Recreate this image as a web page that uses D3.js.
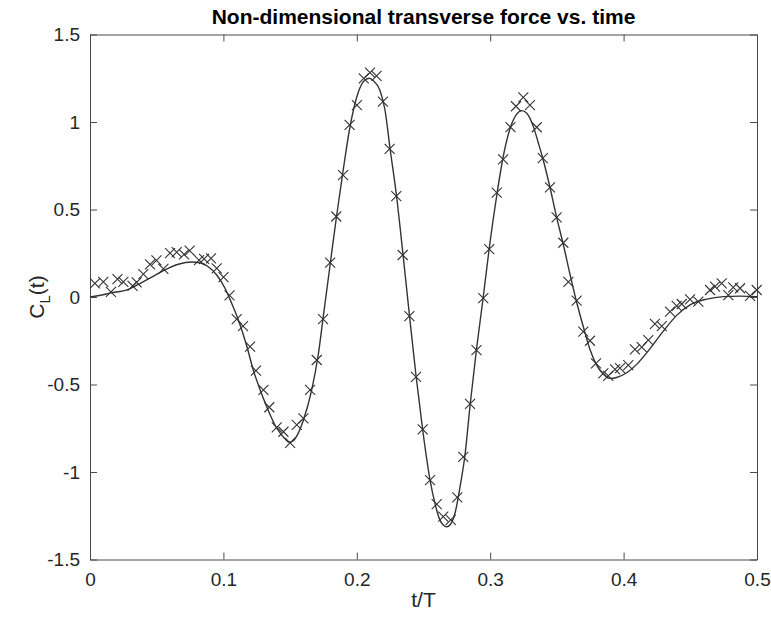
<!DOCTYPE html>
<html>
<head>
<meta charset="utf-8">
<script src="https://cdnjs.cloudflare.com/ajax/libs/d3/7.8.5/d3.min.js"></script>
<style>
  body { margin: 0; background: #fff; }
  svg { display: block; font-family: "Liberation Sans", Arial, sans-serif; }
</style>
</head>
<body>
<div id="chart"></div>
<script>
// solid curve: t/T and C_L(t)
const lineT = [0, 0.008, 0.015, 0.0287, 0.0362, 0.0463, 0.0562, 0.0662, 0.0762, 0.0825, 0.0887, 0.095,
    0.1012, 0.1062, 0.1112, 0.1175, 0.1224, 0.1275, 0.1325, 0.14, 0.145, 0.1495, 0.1537, 0.16, 0.1662,
    0.1711, 0.1749, 0.1794, 0.1846, 0.1897, 0.1946, 0.2011, 0.2061, 0.2094, 0.2124, 0.2174, 0.2211,
    0.2249, 0.2299, 0.2344, 0.2394, 0.2444, 0.2494, 0.2549, 0.2586, 0.2618, 0.2648, 0.2674, 0.2704,
    0.2736, 0.2774, 0.2811, 0.2849, 0.2897, 0.2948, 0.2993, 0.3049, 0.3097, 0.3152, 0.3199, 0.3236,
    0.3274, 0.3323, 0.3361, 0.3394, 0.3448, 0.3498, 0.3548, 0.3598, 0.3648, 0.3698, 0.3748, 0.3798,
    0.3848, 0.3898, 0.3948, 0.4023, 0.4098, 0.4198, 0.4298, 0.4398, 0.4498, 0.4623, 0.4747, 0.4873, 0.5];
const lineCL = [0, 0.01, 0.022, 0.044, 0.072, 0.114, 0.155, 0.187, 0.2, 0.196, 0.173, 0.126,
    0.05, -0.036, -0.131, -0.28, -0.417, -0.53, -0.627, -0.75, -0.8, -0.83, -0.81, -0.703, -0.531,
    -0.33, -0.11, 0.15, 0.45, 0.72, 0.96, 1.17, 1.24, 1.25, 1.236, 1.18, 1.07,
    0.85, 0.57, 0.26, -0.1, -0.45, -0.76, -1.046, -1.179, -1.265, -1.303, -1.313, -1.297,
    -1.236, -1.084, -0.903, -0.62, -0.3, 0.0, 0.28, 0.58, 0.8, 0.97, 1.045, 1.065,
    1.05, 0.975, 0.88, 0.793, 0.627, 0.455, 0.3, 0.13, -0.03, -0.17, -0.3, -0.389,
    -0.44, -0.465, -0.46, -0.433, -0.385, -0.295, -0.195, -0.105, -0.045, -0.012, 0.002, 0.005, 0.002];

// cross markers: t/T and C_L(t)
const markT = [0.0037, 0.01, 0.0157, 0.0206, 0.025, 0.0319, 0.035, 0.04, 0.045, 0.0498, 0.055, 0.06,
    0.065, 0.0705, 0.0747, 0.0817, 0.0855, 0.0907, 0.095, 0.1001, 0.1046, 0.11, 0.1147, 0.12, 0.1244,
    0.13, 0.1344, 0.14, 0.145, 0.15, 0.155, 0.16, 0.165, 0.17, 0.1747, 0.18, 0.1846, 0.1897, 0.1946,
    0.2001, 0.2052, 0.2099, 0.2148, 0.2196, 0.2246, 0.2296, 0.2344, 0.2394, 0.2444, 0.2494, 0.2549,
    0.2599, 0.2648, 0.2704, 0.2753, 0.2798, 0.2849, 0.2897, 0.2948, 0.2993, 0.3049, 0.3097, 0.3152,
    0.3193, 0.3248, 0.3298, 0.3349, 0.3394, 0.3448, 0.3498, 0.3548, 0.3586, 0.3648, 0.3698, 0.3748,
    0.3793, 0.3848, 0.3885, 0.3936, 0.3973, 0.4035, 0.4085, 0.4136, 0.4185, 0.4235, 0.4286, 0.4348,
    0.4398, 0.4436, 0.4498, 0.456, 0.4648, 0.4685, 0.4735, 0.4785, 0.4822, 0.4873, 0.4948, 0.4998];
const markCL = [0.078, 0.087, 0.029, 0.102, 0.087, 0.063, 0.083, 0.131, 0.186, 0.209, 0.161, 0.251,
    0.256, 0.243, 0.265, 0.211, 0.218, 0.221, 0.164, 0.114, 0.009, -0.127, -0.166, -0.283, -0.421,
    -0.531, -0.63, -0.745, -0.77, -0.833, -0.731, -0.693, -0.531, -0.36, -0.127, 0.196, 0.46, 0.697, 0.983,
    1.097, 1.249, 1.282, 1.263, 1.116, 0.847, 0.577, 0.24, -0.109, -0.457, -0.756, -1.046,
    -1.183, -1.255, -1.274, -1.145, -0.913, -0.611, -0.303, -0.007, 0.273, 0.596, 0.786, 0.971,
    1.09, 1.141, 1.097, 0.97, 0.793, 0.627, 0.455, 0.31, 0.087, -0.021, -0.198, -0.25,
    -0.379, -0.436, -0.451, -0.413, -0.407, -0.389, -0.299, -0.287, -0.246, -0.154, -0.166, -0.084,
    -0.051, -0.04, -0.013, -0.027, 0.04, 0.059, 0.078, 0.011, 0.055, 0.05, 0.006, 0.04];

const xTicks = [0, 0.1, 0.2, 0.3, 0.4, 0.5];
const yTicks = [-1.5, -1, -0.5, 0, 0.5, 1, 1.5];

const titleText = "Non-dimensional transverse force vs. time";
const xLabelText = "t/T";

const W = 771, H = 623;
const margin = {left: 90, top: 34.5, right: 14, bottom: 63.5};
const plotW = W - margin.left - margin.right;
const plotH = H - margin.top - margin.bottom;
const axisColor = "#4a4a4a";
const inkColor = "#262626";

const svg = d3.select("#chart").append("svg")
    .attr("width", W)
    .attr("height", H);

const g = svg.append("g")
    .attr("transform", `translate(${margin.left},${margin.top})`);

const x = d3.scaleLinear().domain([0, 0.5]).range([0, plotW]);
const y = d3.scaleLinear().domain([-1.5, 1.5]).range([plotH, 0]);

// box with inward ticks, matlab look; plain hyphen for minus
const tickLen = 7;
const fmt = d => String(d);

const xAxisB = d3.axisBottom(x).tickValues(xTicks).tickSizeInner(-tickLen).tickSizeOuter(0).tickPadding(13).tickFormat(fmt);
const xAxisT = d3.axisTop(x).tickValues(xTicks).tickSizeInner(-tickLen).tickSizeOuter(0).tickFormat("");
const yAxisL = d3.axisLeft(y).tickValues(yTicks).tickSizeInner(-tickLen).tickSizeOuter(0).tickPadding(10).tickFormat(fmt);
const yAxisR = d3.axisRight(y).tickValues(yTicks).tickSizeInner(-tickLen).tickSizeOuter(0).tickFormat("");

const styleAxis = function (sel) {
    sel.select(".domain").attr("stroke", axisColor).attr("stroke-width", 1);
    sel.selectAll(".tick line").attr("stroke", axisColor).attr("stroke-width", 1);
    sel.selectAll(".tick text")
        .attr("fill", inkColor)
        .style("font-size", "19px")
        .style("font-family", "'Liberation Sans', Arial, sans-serif");
};

g.append("g").attr("transform", `translate(0,${plotH})`).call(xAxisB).call(styleAxis);
g.append("g").call(xAxisT).call(styleAxis);
g.append("g").call(yAxisL).call(styleAxis);
g.append("g").attr("transform", `translate(${plotW},0)`).call(yAxisR).call(styleAxis);

const plot = g.append("g");

const lineData = lineT.map((t, i) => [t, lineCL[i]]);
const lineGen = d3.line()
    .x(d => x(d[0]))
    .y(d => y(d[1]))
    .curve(d3.curveMonotoneX);

plot.append("path")
    .attr("d", lineGen(lineData))
    .attr("fill", "none")
    .attr("stroke", "#333")
    .attr("stroke-width", 1.4);

const markData = markT.map((t, i) => [t, markCL[i]]);
const s = 5;
const marks = plot.selectAll("g.mark")
    .data(markData)
    .enter()
    .append("g")
    .attr("class", "mark")
    .attr("transform", d => `translate(${x(d[0])},${y(d[1])})`);

marks.append("path")
    .attr("d", `M${-s},${-s}L${s},${s}M${-s},${s}L${s},${-s}`)
    .attr("stroke", "#333")
    .attr("stroke-width", 1.1)
    .attr("fill", "none");

// title and labels
svg.append("text")
    .attr("x", margin.left + plotW / 2)
    .attr("y", 24)
    .attr("text-anchor", "middle")
    .attr("fill", "#000")
    .style("font-size", "21px")
    .style("font-weight", "bold")
    .text(titleText);

svg.append("text")
    .attr("x", margin.left + plotW / 2)
    .attr("y", 607)
    .attr("text-anchor", "middle")
    .attr("fill", inkColor)
    .style("font-size", "21px")
    .text(xLabelText);

const yLab = svg.append("text")
    .attr("transform", `translate(44,${margin.top + plotH / 2}) rotate(-90)`)
    .attr("text-anchor", "middle")
    .attr("fill", inkColor)
    .style("font-size", "21px");
yLab.append("tspan").text("C");
yLab.append("tspan").attr("dy", 6).style("font-size", "15px").text("L");
yLab.append("tspan").attr("dy", -6).text("(t)");
</script>
</body>
</html>
